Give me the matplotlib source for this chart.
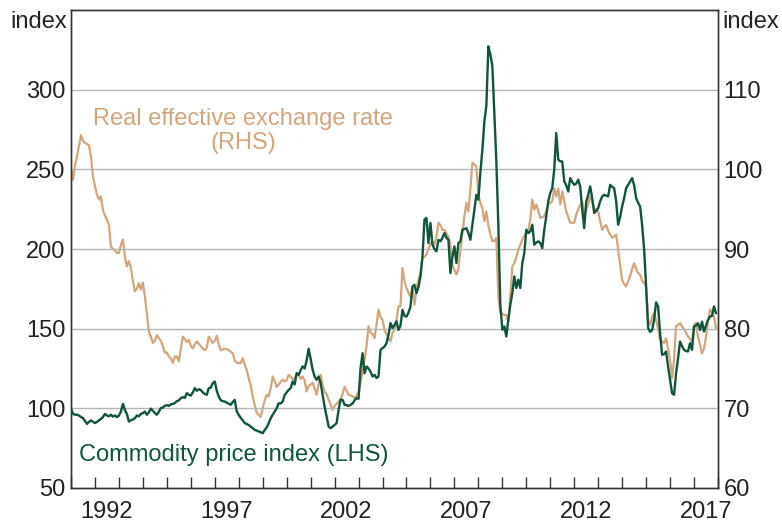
import numpy as np
import pandas as pd
import matplotlib
matplotlib.use("Agg")
import matplotlib.pyplot as plt
from matplotlib.ticker import FixedLocator, NullFormatter

plt.rcParams['font.family'] = ['Liberation Sans', 'DejaVu Sans']

# monthly, Jan 1991 - Dec 2017
months = pd.date_range("1991-01-01", "2017-12-01", freq="MS")

# Commodity price index (LHS), one row per year
commodity = [
    100, 96.5, 96, 96, 95.5, 94.5, 94, 92, 90.2, 91.5, 92.4, 91.5,                    # 1991
    90.8, 91.5, 92.5, 93.4, 94.5, 96.5, 95.5, 95, 96, 94.8, 95.5, 94.5,               # 1992
    95.5, 98, 102.8, 99, 96.5, 91.7, 92.5, 93, 93.8, 95.5, 95, 96.5,                  # 1993
    97, 98, 96, 97.5, 99.8, 98.5, 97, 96, 97.8, 100.2, 100.5, 101.6,                  # 1994
    102, 101.5, 102.5, 102.8, 103.3, 104.5, 105, 106.4, 107, 106.5, 109.5, 108.5,     # 1995
    108, 110, 112.7, 111, 112, 111.5, 110, 109, 108.5, 112.7, 113, 115.8,             # 1996
    116.8, 111, 107.4, 105, 104.5, 104.3, 103.5, 103, 102.2, 104, 105.3, 98,          # 1997
    95.9, 94, 92.5, 90.7, 90.2, 89.5, 88.5, 87.6, 86.5, 86, 85.5, 85,                 # 1998
    84.4, 86.4, 88, 90.7, 93.7, 96, 98, 100, 103.2, 103, 104.3, 108.4,                # 1999
    110, 111.6, 112.7, 116.8, 115, 122.1, 121, 124, 126.3, 125, 130, 137.4,           # 2000
    131, 124.2, 120, 117.9, 120, 116, 108.5, 101.1, 95, 88.6, 87.5, 88.5,             # 2001
    89.6, 90.7, 99, 105.4, 105.3, 102.2, 102, 101.5, 102.2, 103, 105, 106.4,          # 2002
    106, 125.3, 134.6, 122, 126.3, 125, 123, 120, 121, 119, 120, 136.7,               # 2003
    137.8, 138.8, 141, 146, 153.5, 150.4, 152.3, 154.6, 149.2, 152, 161.8, 158,       # 2004
    157.6, 160, 163.9, 176.5, 177.6, 172.3, 176, 182.8, 195, 218.4, 219.5, 203.8,     # 2005
    216.3, 202.7, 200, 198.5, 205.8, 204.8, 207, 210, 207, 205.8, 184.9, 195,         # 2006
    201.6, 191.2, 203.7, 204.8, 212.1, 212.5, 213.1, 210, 205.8, 215, 224.7, 234,     # 2007
    230.9, 248, 262.3, 280, 290, 327.2, 322, 315, 285, 255, 215, 165,                 # 2008
    149.3, 151.4, 145.1, 155.6, 165, 172.3, 182.8, 175.5, 180.7, 175.5, 191.2, 197.4, # 2009
    212.1, 210, 211, 215.2, 202.7, 204, 204.8, 203.7, 200.6, 212, 220.5, 230,         # 2010
    235.1, 238.3, 250, 272.8, 256.1, 255, 255, 242.4, 240, 236.1, 244.5, 242,         # 2011
    240.3, 241, 243.5, 239.3, 225, 213.1, 229.6, 234, 239.3, 232, 222.6, 224,         # 2012
    225.7, 230, 233, 234, 233.5, 233, 240.3, 239, 238.2, 230, 215.2, 220,             # 2013
    226.7, 232, 238.2, 240.3, 242.4, 244.5, 240, 232, 229, 226.7, 215, 200,           # 2014
    176.5, 150.4, 148, 149, 155.7, 166.5, 164, 147.3, 133.6, 134, 135.7, 126.3,       # 2015
    118, 109.5, 108.5, 122, 131.4, 141.9, 139, 136.7, 136, 135.7, 140.9, 136.7,       # 2016
    151.3, 152, 153.4, 149.2, 154.4, 148.2, 152, 155.5, 157.6, 158, 164, 159.8,       # 2017
]

# Real effective exchange rate (RHS), one row per year
reer = [
    100, 98.7, 100.5, 101.6, 103, 104.3, 103.6, 103.3, 103.2, 103, 101.6, 99.1,       # 1991
    97.9, 96.8, 96.2, 96.6, 94.9, 94.2, 93.7, 93, 90.3, 90, 89.8, 89.5,               # 1992
    89.5, 90.5, 91.2, 89, 87.8, 88.5, 87.6, 86, 84.7, 85, 85.7, 84.9,                 # 1993
    85.8, 84, 81.9, 79.6, 79, 78.2, 78.5, 79.2, 78.8, 78.5, 77.8, 77,                 # 1994
    77, 76.5, 76.3, 75.7, 76.5, 76.5, 75.9, 77.5, 79, 78.7, 78.3, 78.6,               # 1995
    77.8, 77.5, 78, 78.4, 78.1, 77.8, 77.5, 77.3, 77.6, 79, 78.6, 78.2,               # 1996
    78.5, 79.1, 78, 77.3, 77.4, 77.5, 77.4, 77.3, 77.1, 76.9, 76, 75.7,               # 1997
    75.7, 75.7, 76.3, 75.5, 74.8, 73.8, 72.9, 71.5, 70.4, 69.4, 69.2, 68.9,           # 1998
    70, 71, 71.7, 71.5, 72.5, 74, 73.4, 72.7, 73, 73.3, 73.6, 73.4,                   # 1999
    73.5, 74.2, 74, 73.6, 73.8, 74.2, 74.2, 73.7, 74, 73.5, 72.1, 72.8,               # 2000
    73, 73.2, 72.5, 71.7, 73, 74.2, 73, 72.1, 71.8, 71.1, 70.5, 69.8,                 # 2001
    70.3, 70.6, 70.8, 71.1, 71.8, 72.7, 72.2, 71.7, 71.6, 71.5, 71.3, 71.6,           # 2002
    72, 73.2, 74.8, 76.1, 77.8, 80.3, 79.5, 79.3, 78.8, 80.5, 82.4, 81.5,             # 2003
    81.1, 79.8, 79.3, 78.8, 78.4, 79.5, 79.8, 81.1, 82.8, 82.8, 87.6, 86,             # 2004
    85.1, 84.5, 84, 85.1, 83, 85, 86.1, 87, 88.9, 89, 89.3, 90,                       # 2005
    90.7, 90.9, 90.5, 91.5, 93.3, 93, 92.4, 92.4, 92, 91.5, 90.5, 88,                 # 2006
    87.4, 86.8, 87.5, 89.9, 92, 94.1, 95.8, 94.7, 97.5, 100.8, 100.6, 100.4,          # 2007
    96.8, 95.8, 95.1, 93.5, 94.7, 93, 91.8, 91, 91, 91.4, 84, 82,                     # 2008
    81.9, 81.7, 81.7, 80.9, 84, 87.8, 88.2, 89, 89.9, 90.5, 91.2, 91.6,               # 2009
    92, 92.4, 93.7, 96.2, 94.9, 95.6, 94.8, 93.9, 94, 94.1, 94.8, 95.6,               # 2010
    95.8, 96, 97.6, 96.6, 97.6, 95.6, 97.2, 96, 94.7, 94, 93.3, 93.3,                 # 2011
    93.3, 94.3, 95, 95.5, 96, 93.9, 95, 95.6, 96.6, 96, 95.1, 95,                     # 2012
    94.7, 93.5, 92.4, 92.8, 93, 92.3, 91.8, 91.4, 91.6, 91.8, 89.9, 88,               # 2013
    86.1, 85.6, 85.3, 86, 86.6, 87.5, 88.2, 87.5, 87, 86.8, 86, 85.7,                 # 2014
    85.3, 81.1, 80.5, 81.5, 81.9, 81.1, 80, 78.6, 78.4, 78.2, 78.8, 77.5,             # 2015
    76.1, 73.8, 76.1, 80.3, 80.5, 80.7, 80.3, 79.9, 79.5, 79, 78.7, 78.4,             # 2016
    80.5, 80.7, 79, 78, 76.9, 77.5, 79, 80.9, 82.4, 82, 81.5, 80.1,                   # 2017
]

year_labels = ["1992", "1997", "2002", "2007", "2012", "2017"]
left_ticks = [50, 100, 150, 200, 250, 300]
right_ticks = [60, 70, 80, 90, 100, 110]

green = "#0e553a"
tan = "#d3a57c"
grid_c = "#b5b5b5"
spine_c = "#333333"
txt_c = "#222222"
fs = 17

t = months.year + (months.month - 1) / 12.0

fig = plt.figure(figsize=(7.82, 5.23), dpi=100)
ax = fig.add_axes([71 / 782, 1 - 488 / 523, 647 / 782, 478 / 523])
ax2 = ax.twinx()

ax2.plot(t, reer, color=tan, lw=1.6)
ax.plot(t, commodity, color=green, lw=1.7)

# commodity line drawn above the RHS series
ax.set_zorder(ax2.get_zorder() + 1)
ax.patch.set_visible(False)

ax.set_xlim(1991, 2018)
ax.set_ylim(50, 350)
ax2.set_ylim(60, 120)

for y in [100, 150, 200, 250, 300]:
    ax.axhline(y, color=grid_c, lw=1.0, zorder=0)

ax.set_yticks(left_ticks)
ax2.set_yticks(right_ticks)
ax.tick_params(axis='y', length=0, pad=4, labelsize=fs, labelcolor=txt_c)
ax2.tick_params(axis='y', length=0, pad=4, labelsize=fs, labelcolor=txt_c)

ax.xaxis.set_major_locator(FixedLocator(list(range(1991, 2019))))
ax.xaxis.set_major_formatter(NullFormatter())
ax.xaxis.set_minor_locator(FixedLocator([int(y) + 0.5 for y in year_labels]))
ax.set_xticklabels(year_labels, minor=True)
ax.tick_params(axis='x', which='major', direction='in', length=8, width=1, color=spine_c)
ax.tick_params(axis='x', which='minor', length=0, pad=9, labelsize=fs, labelcolor=txt_c)

for a in (ax, ax2):
    for s in a.spines.values():
        s.set_color(spine_c)
        s.set_linewidth(1.0)

fig.text(67 / 782, 1 - 22 / 523, "index", ha='right', va='center', fontsize=fs, color=txt_c)
fig.text(722 / 782, 1 - 22 / 523, "index", ha='left', va='center', fontsize=fs, color=txt_c)

fig.text(243 / 782, 1 - 131 / 523, "Real effective exchange rate\n(RHS)", ha='center', va='center',
         fontsize=fs, color=tan, linespacing=1.15)
fig.text(234 / 782, 1 - 455 / 523, "Commodity price index (LHS)", ha='center', va='center',
         fontsize=fs, color=green)

fig.savefig("out.png", dpi=100)
